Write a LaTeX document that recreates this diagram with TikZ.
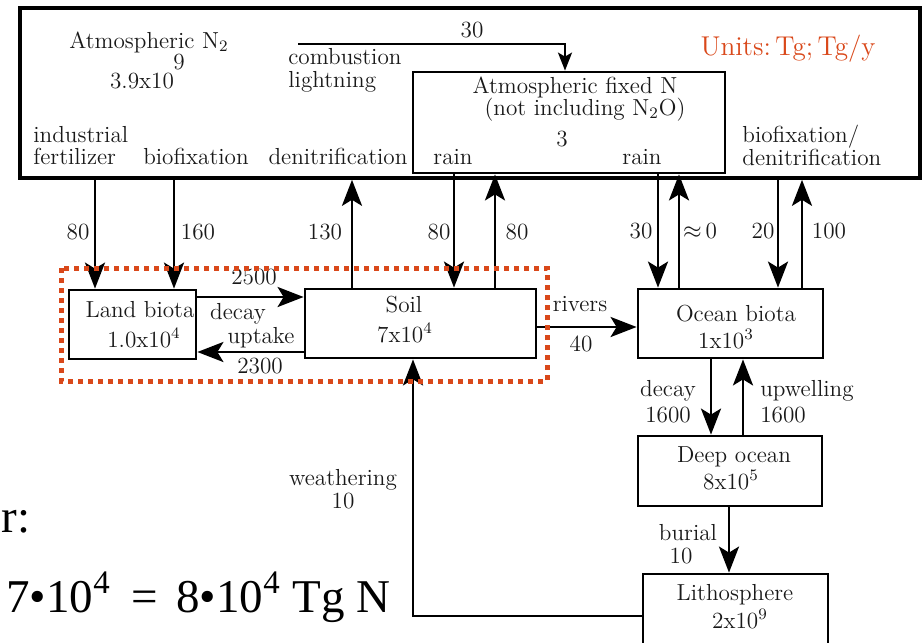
\documentclass[tikz,border=0pt]{standalone}
\usepackage{fontspec}
\newfontfamily\tnr{Liberation Serif}
\usetikzlibrary{arrows.meta,fit}
\definecolor{unitorange}{HTML}{D9481A}
\begin{document}
\begin{tikzpicture}[x=0.5pt,y=-0.5pt,
  lbl/.style={inner sep=0pt, anchor=base, font=\fontsize{11.6}{13}\selectfont, text=black!90},
  lblw/.style={lbl, anchor=base west},
  box/.style={draw, line width=1.4pt, inner sep=0pt},
  bigbox/.style={draw, line width=1.8pt, inner sep=0pt},
  arr/.style={line width=1.4pt, -{Stealth[length=13pt,width=10pt,inset=3pt]}},
  sarr/.style={line width=1.2pt, -{Stealth[length=9pt,width=7pt,inset=2pt]}},
  dotbox/.style={draw=unitorange, line width=2.5pt, dash pattern=on 2.5pt off 2.5pt},
  bigtext/.style={inner sep=0pt, font=\tnr\fontsize{23.5}{27}\selectfont}]
\useasboundingbox (0,0) rectangle (922,643);
\clip (0,0) rectangle (922,643);

% boxes
\node[bigbox, fit={(20,8) (920,178)}] (atm) {};
\node[box, fill=white, fit={(413,72) (725,173)}] (afn) {};
\node[box, fit={(69,290) (196,359)}] (land) {};
\node[box, fit={(305,289) (536,358)}] (soil) {};
\node[box, fit={(638,289) (823,358)}] (ocean) {};
\node[box, fit={(638,436) (822,506)}] (deep) {};
\node[box, fit={(643,574) (828,700)}] (litho) {};

% texts in atmosphere box
\node[lbl] (tAtm) at (149,48) {Atmospheric N$_2$};
\node[lbl] (tAtmV) at (142,88) {3.9x10};
\node[lbl] (tAtmE) at (179,69) {9};
\node[lblw] (tComb) at (288,64) {combustion};
\node[lblw] (tLight) at (288,87) {lightning};
\node[lbl] (t30) at (472,37) {30};
\node[lbl] (tAfn1) at (575,93) {Atmospheric fixed N};
\node[lbl] (tAfn2) at (585,115) {(not including N$_2$O)};
\node[lbl] (tAfn3) at (562,146) {3};
\node[lbl] (tRain1) at (453,164) {rain};
\node[lbl] (tRain2) at (642,164) {rain};
\node[lblw] (tInd1) at (33,142) {industrial};
\node[lblw] (tInd2) at (33,164) {fertilizer};
\node[lbl] (tBio) at (196,164) {biofixation};
\node[lbl] (tDen) at (338,164) {denitrification};
\node[lblw] (tBd1) at (742,142) {biofixation/};
\node[lblw] (tBd2) at (742,165) {denitrification};
\node[inner sep=0pt, anchor=base, font=\fontsize{13.6}{15}\selectfont, text=unitorange] (tUnits) at (788,55) {Units:\,Tg;\,Tg/y};

% texts in reservoirs
\node[lbl] (tLand1) at (140,317) {Land biota};
\node[lbl] (tLand2) at (144,347) {1.0x10$^4$};
\node[lbl] (tSoil1) at (404,312) {Soil};
\node[lbl] (tSoil2) at (405,342) {7x10$^4$};
\node[lbl] (tOce1) at (736,321) {Ocean biota};
\node[lbl] (tOce2) at (726,348) {1x10$^3$};
\node[lbl] (tDeep1) at (734,462) {Deep ocean};
\node[lbl] (tDeep2) at (731,489) {8x10$^5$};
\node[lbl] (tLith1) at (735,600) {Lithosphere};
\node[lbl] (tLith2) at (740,628) {2x10$^9$};

% column coordinates
\coordinate (xFert) at (95,0);
\coordinate (xBio) at (174,0);
\coordinate (xDen) at (352,0);
\coordinate (xRain1) at (454,0);
\coordinate (xUp1) at (495,0);
\coordinate (xRain2) at (658,0);
\coordinate (xUp2) at (679,0);
\coordinate (xBio2) at (778,0);
\coordinate (xUp3) at (802,0);
\coordinate (xDecay) at (711,0);
\coordinate (xUpw) at (743,0);
\coordinate (xBur) at (729,0);
\coordinate (yLU) at (0,297);
\coordinate (yUL) at (0,352);
\coordinate (yRiv) at (0,327);
\coordinate (cTop1) at (298,44);
\coordinate (cTop2) at (565,44);
\coordinate (cWea) at (413,616);

% arrows atmosphere <-> surface
\draw[arr] (atm.south -| xFert) -- (land.north -| xFert);
\draw[arr] (atm.south -| xBio) -- (land.north -| xBio);
\draw[arr] (soil.north -| xDen) -- (atm.south -| xDen);
\draw[arr] (afn.south -| xRain1) -- (soil.north -| xRain1);
\draw[arr] (soil.north -| xUp1) -- (afn.south -| xUp1);
\draw[arr] (afn.south -| xRain2) -- (ocean.north -| xRain2);
\draw[arr] (ocean.north -| xUp2) -- (afn.south -| xUp2);
\draw[arr] (atm.south -| xBio2) -- (ocean.north -| xBio2);
\draw[arr] (ocean.north -| xUp3) -- (atm.south -| xUp3);
\draw[sarr] (cTop1) -- (cTop2) -- (afn.north -| cTop2);

% surface arrows
\draw[arr] (land.east |- yLU) -- (soil.west |- yLU);
\draw[arr] (soil.west |- yUL) -- (land.east |- yUL);
\draw[arr] (soil.east |- yRiv) -- (ocean.west |- yRiv);
\draw[arr] (ocean.south -| xDecay) -- (deep.north -| xDecay);
\draw[arr] (deep.north -| xUpw) -- (ocean.south -| xUpw);
\draw[arr] (deep.south -| xBur) -- (litho.north -| xBur);
\draw[arr] (litho.west |- cWea) -- (cWea) -- (soil.south -| cWea);

% flux labels
\node[lbl] (l80a) at (78,239) {80};
\node[lbl] (l160) at (198,239) {160};
\node[lbl] (l130) at (325,239) {130};
\node[lbl] (l80b) at (439,239) {80};
\node[lbl] (l80c) at (517,239) {80};
\node[lbl] (l30) at (641,238) {30};
\node[lbl] (lap0) at (700,238) {$\approx$\,0};
\node[lbl] (l20) at (763,238) {20};
\node[lbl] (l100) at (829,238) {100};
\node[lbl] (l2500) at (254,284) {2500};
\node[lbl] (lDecay) at (238,319) {decay};
\node[lbl] (lUptake) at (261,343) {uptake};
\node[lbl] (l2300) at (260,373) {2300};
\node[lbl] (lRivers) at (580,311) {rivers};
\node[lbl] (l40) at (581,351) {40};
\node[lbl] (lDecay2) at (668,396) {decay};
\node[lbl] (l1600a) at (668,422) {1600};
\node[lbl] (lUpw) at (807,396) {upwelling};
\node[lbl] (l1600b) at (783,422) {1600};
\node[lbl] (lBur) at (688,540) {burial};
\node[lbl] (l10a) at (681,563) {10};
\node[lbl] (lWea) at (343,485) {weathering};
\node[lbl] (l10b) at (343,508) {10};

% dotted land box
\draw[dotbox] (61,268) rectangle (547,381);

% slide text
\node[bigtext, anchor=base east] (tR) at (31,532) {r:};
\node[bigtext, anchor=base west] (tEq) at (6,612) {7•10\textsuperscript{4}\hspace{0.45em}=\hspace{0.38em}8•10\textsuperscript{4}\hspace{0.25em}Tg\hspace{0.25em}N};
\end{tikzpicture}
\end{document}
